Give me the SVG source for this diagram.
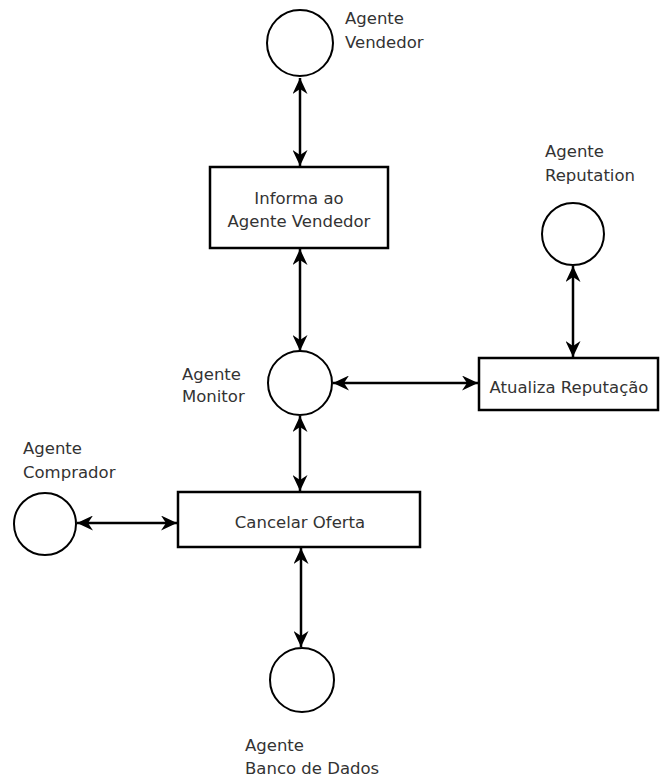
<svg xmlns="http://www.w3.org/2000/svg" width="661" height="780" viewBox="0 0 661 780">
<defs>
<marker id="ah" markerUnits="userSpaceOnUse" markerWidth="17" markerHeight="15" refX="16" refY="7.5" orient="auto-start-reverse">
<path d="M0,0 L16,7.5 L0,15 L5,7.5 z" fill="#000"/>
</marker>
<style>
.c{fill:#fff;stroke:#000;stroke-width:2}
.b{fill:#fff;stroke:#000;stroke-width:2.5}
.l{stroke:#000;stroke-width:2.5;fill:none;marker-start:url(#ah);marker-end:url(#ah)}
text{font-family:"DejaVu Sans","Liberation Sans",sans-serif;font-size:16.5px;fill:#333}
.m{text-anchor:middle}
</style>
</defs>
<rect width="661" height="780" fill="#fff"/>
<g id="connectors">
<line class="l" x1="300" y1="78" x2="300" y2="166"/>
<line class="l" x1="300" y1="249" x2="300" y2="351"/>
<line class="l" x1="333" y1="383" x2="478" y2="383"/>
<line class="l" x1="573" y1="266" x2="573" y2="357"/>
<line class="l" x1="300" y1="416" x2="300" y2="491"/>
<line class="l" x1="77" y1="523" x2="177" y2="523"/>
<line class="l" x1="301" y1="548" x2="301" y2="647"/>
</g>
<g id="agente-vendedor">
<circle class="c" cx="300" cy="43" r="33"/>
<text x="345" y="24">Agente</text>
<text x="345" y="48">Vendedor</text>
</g>
<g id="informa">
<rect class="b" x="210" y="167" width="178" height="81"/>
<text class="m" x="299" y="204">Informa ao</text>
<text class="m" x="299" y="227">Agente Vendedor</text>
</g>
<g id="agente-monitor">
<circle class="c" cx="300" cy="383" r="32"/>
<text x="182" y="380">Agente</text>
<text x="182" y="402">Monitor</text>
</g>
<g id="agente-reputation">
<circle class="c" cx="573" cy="234" r="31"/>
<text x="545" y="157">Agente</text>
<text x="545" y="181">Reputation</text>
</g>
<g id="atualiza">
<rect class="b" x="479" y="358" width="179" height="52"/>
<text class="m" x="569" y="393">Atualiza Reputação</text>
</g>
<g id="cancelar">
<rect class="b" x="178" y="492" width="242" height="55"/>
<text class="m" x="300" y="528">Cancelar Oferta</text>
</g>
<g id="agente-comprador">
<circle class="c" cx="45" cy="524" r="31"/>
<text x="23" y="454">Agente</text>
<text x="23" y="478">Comprador</text>
</g>
<g id="agente-banco">
<circle class="c" cx="302" cy="680" r="32"/>
<text x="245" y="751">Agente</text>
<text x="245" y="774">Banco de Dados</text>
</g>
</svg>
